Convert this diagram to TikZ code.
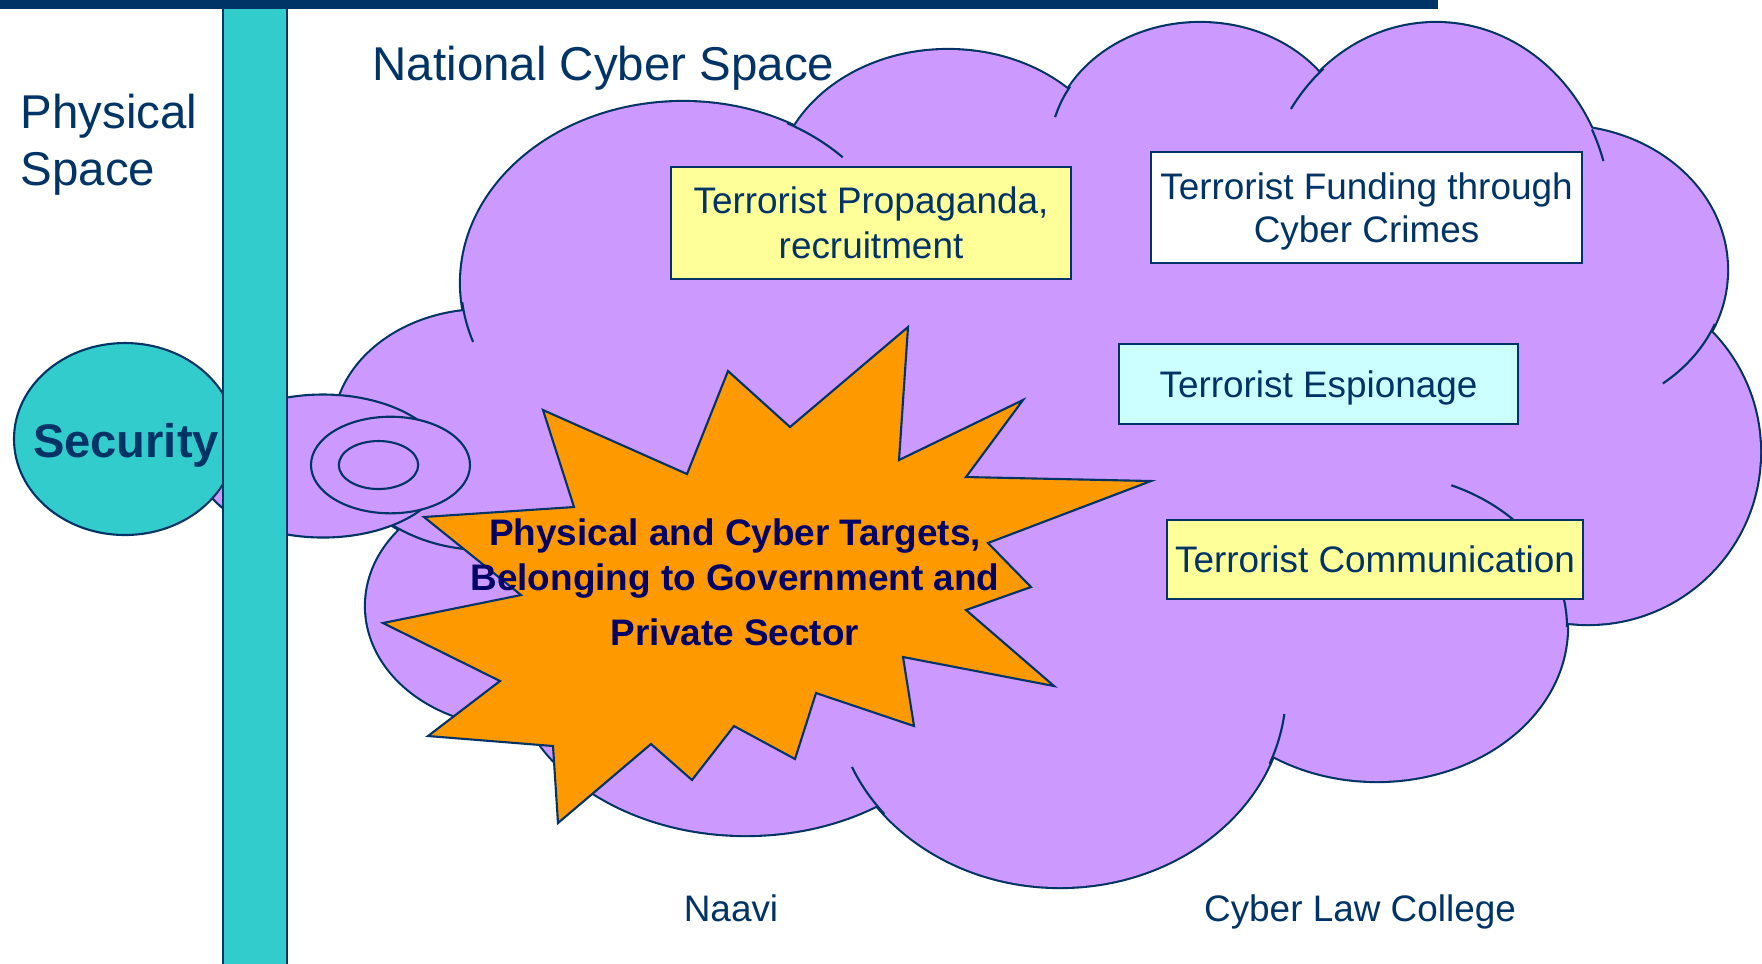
\documentclass[tikz,border=0pt]{standalone}
\usepackage{fontspec}
\setmainfont{Liberation Sans}
\usetikzlibrary{shapes.geometric}
\definecolor{HdrBlue}  {RGB}{0,51,102}
\definecolor{TxtBlue}  {RGB}{0,51,102}
\definecolor{LineBlue} {RGB}{0,51,102}
\definecolor{StarTxt}  {RGB}{0,0,102}
\definecolor{CloudFill}{RGB}{204,153,255}
\definecolor{BarTeal}  {RGB}{51,204,204}
\definecolor{StarFill} {RGB}{255,153,0}
\definecolor{BoxYellow}{RGB}{255,255,153}
\definecolor{BoxCyan}  {RGB}{204,255,255}
\tikzset{
  nd_box/.style={
    rectangle, draw=LineBlue, line width=0.6pt, inner sep=0pt,
    align=center, text=TxtBlue, text depth=0pt,
    font=\fontsize{10.5}{12.8}\selectfont},
  nd_big/.style={
    text=TxtBlue, inner sep=0pt,
    font=\fontsize{13.5}{16.2}\selectfont},
  nd_foot/.style={
    text=TxtBlue, inner sep=0pt, anchor=base,
    font=\fontsize{10.5}{12.6}\selectfont},
  nd_oval/.style={
    ellipse, draw=LineBlue, fill=BarTeal, line width=0.6pt,
    inner sep=0pt, minimum width=2.22cm, minimum height=1.92cm},
  bump_line/.style={draw=LineBlue, fill=CloudFill, line width=1.2pt},
  bump_fill/.style={fill=CloudFill},
  bump_arc/.style={draw=LineBlue, line width=0.6pt},
  tail/.style={draw=LineBlue, fill=CloudFill, line width=0.6pt},
  burst/.style={draw=LineBlue, fill=StarFill, line width=0.6pt, line join=miter},
}

\begin{document}
\begin{tikzpicture}[x=1cm,y=1cm]
\useasboundingbox (0,0) rectangle (17.62,-9.63);

%% cloud: one ellipse per bump  cx/cy/rx/ry
\def\bumps{6.83/-2.83/2.22/1.81, 9.48/-1.90/1.72/1.40,
  12.00/-1.50/1.50/1.27, 14.36/-2.18/1.75/1.95,
  15.60/-2.70/1.67/1.44, 15.88/-4.52/1.72/1.72,
  13.77/-6.27/1.90/1.54, 10.60/-6.90/2.26/1.97,
  7.46/-6.60/2.35/1.75, 5.16/-6.06/1.50/1.20,
  4.84/-4.30/1.50/1.20}
\foreach \cx/\cy/\rx/\ry in \bumps
  {\path[bump_line] (\cx,\cy) ellipse [x radius=\rx, y radius=\ry];}
\foreach \cx/\cy/\rx/\ry in \bumps
  {\path[bump_fill] (\cx,\cy) ellipse [x radius=\rx, y radius=\ry];}
\fill[CloudFill] (6.83,-2.83) -- (9.48,-1.90) -- (12.00,-1.50) -- (14.36,-2.18)
  -- (15.60,-2.70) -- (15.88,-4.52) -- (13.77,-6.27) -- (10.60,-6.90)
  -- (7.46,-6.60) -- (5.16,-6.06) -- (4.84,-4.30) -- cycle;

%% short inner arcs where bumps meet
\foreach \cx/\cy/\rx/\ry/\a/\b in {
    6.83/-2.83/2.22/1.81/62/44, 6.83/-2.83/2.22/1.81/186/199,
    12.00/-1.50/1.50/1.27/150/165, 14.36/-2.18/1.75/1.95/130/146,
    14.36/-2.18/1.75/1.95/27/17, 15.60/-2.70/1.67/1.44/-22/-52,
    13.77/-6.27/1.90/1.54/67/0, 10.60/-6.90/2.26/1.97/-22/-7,
    10.60/-6.90/2.26/1.97/219/203, 4.84/-4.30/1.50/1.20/228/266}
  {\draw[bump_arc] (\cx,\cy) ++(\a:\rx cm and \ry cm)
     arc[start angle=\a, end angle=\b, x radius=\rx cm, y radius=\ry cm];}

%% callout tail
\path[tail] (3.23,-4.66) ellipse [x radius=1.24, y radius=0.715];
\path[tail] (3.905,-4.65) ellipse [x radius=0.795, y radius=0.483];
\path[tail] (3.785,-4.65) ellipse [x radius=0.397, y radius=0.24];

%% targets burst
\draw[burst] (9.08,-3.27) -- (8.99,-4.60) -- (10.23,-4.00) -- (9.66,-4.77)
  -- (11.51,-4.81) -- (9.88,-5.43) -- (10.31,-5.87) -- (9.66,-6.10)
  -- (10.54,-6.86) -- (9.03,-6.57) -- (9.14,-7.26) -- (8.16,-6.93)
  -- (7.95,-7.59) -- (7.34,-7.26) -- (6.92,-7.80) -- (6.51,-7.44)
  -- (5.58,-8.23) -- (5.53,-7.46) -- (4.28,-7.36) -- (5.00,-6.81)
  -- (3.83,-6.23) -- (5.21,-5.95) -- (4.24,-5.17) -- (5.74,-5.07)
  -- (5.43,-4.10) -- (6.87,-4.74) -- (7.28,-3.71) -- (7.90,-4.27) -- cycle;
\node[anchor=north, align=center, inner sep=0pt, text=StarTxt,
      font=\bfseries\fontsize{10.5}{12.8}\selectfont] (tgt) at (7.35,-5.18)
  {Physical and Cyber Targets,\\Belonging to Government and\\[0.1cm]Private Sector};

%% activity boxes
\node[nd_box, fill=BoxYellow, minimum width=4.00cm, minimum height=1.12cm]
  (prop) at (8.71,-2.23) {Terrorist Propaganda,\\recruitment};
\node[nd_box, fill=white, minimum width=4.31cm, minimum height=1.11cm,
      font=\fontsize{10.5}{12.4}\selectfont]
  (fund) at (13.665,-2.075) {Terrorist Funding through\\Cyber Crimes};
\node[nd_box, fill=BoxCyan, minimum width=3.99cm, minimum height=0.80cm]
  (spy) at (13.185,-3.84) {Terrorist Espionage};
\node[nd_box, fill=BoxYellow, minimum width=4.16cm, minimum height=0.79cm]
  (comm) at (13.75,-5.595) {Terrorist Communication};

%% security and the physical/cyber divide
\node[nd_oval] (sec) at (1.25,-4.39) {};
\node[anchor=base, inner sep=0pt, text=TxtBlue,
      font=\bfseries\fontsize{13.4}{16}\selectfont] (sec_txt) at (1.26,-4.57) {Security};
\draw[draw=LineBlue, fill=BarTeal, line width=0.6pt]
  (2.227,-0.083) rectangle (2.867,-9.70);
\fill[HdrBlue] (0,0) rectangle (14.38,-0.093);

%% titles
\node[nd_big, anchor=base west] (ncs) at (3.72,-0.80) {National Cyber Space};
\node[nd_big, anchor=north west, align=left] (phys) at (0.20,-0.935) {Physical\\Space};
\node[nd_foot] (naavi) at (7.31,-9.215) {Naavi};
\node[nd_foot] (clc) at (13.60,-9.21) {Cyber Law College};

\end{tikzpicture}
\end{document}
